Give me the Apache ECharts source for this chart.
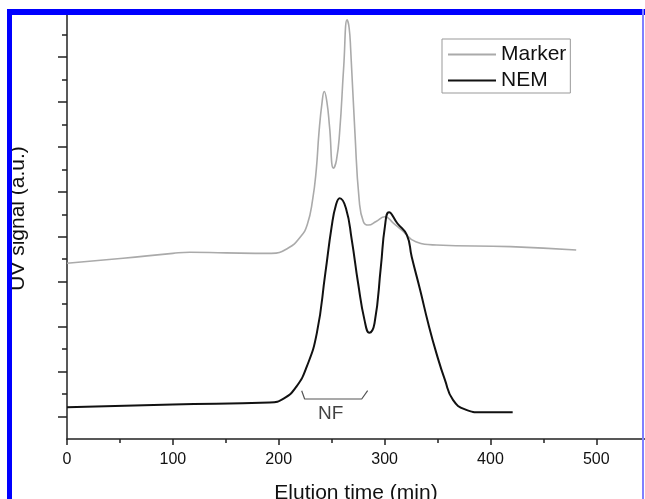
<!DOCTYPE html>
<html>
<head>
<meta charset="utf-8">
<script src="https://cdn.jsdelivr.net/npm/echarts@6/dist/echarts.min.js"></script>
<style>
  html, body { margin: 0; padding: 0; background: #fff; }
  #main { width: 645px; height: 499px; }
</style>
</head>
<body>
<div id="main"></div>
<script>
  // elution time (min), UV signal (a.u.)
  var markerData = [
    [0, 7.82], [53, 8.04], [100, 8.26], [116, 8.31], [150, 8.28], [193, 8.26],
    [209, 8.50], [220.6, 9.00], [227, 9.55], [232, 10.64], [235.5, 12.0], [238, 13.62],
    [241, 15.0], [243, 15.46], [245.5, 15.0], [248, 13.90], [251.7, 12.05],
    [254.5, 12.4], [257.5, 13.62], [261.4, 16.57], [264.6, 18.65], [266.5, 18.3],
    [268, 17.31], [272, 13.62], [276, 10.64], [280, 9.67], [284.8, 9.52],
    [292, 9.68], [300.3, 9.89], [308, 9.62], [316, 9.30], [329.5, 8.78],
    [349, 8.63], [419, 8.56], [481, 8.41]
  ];
  var nemData = [
    [0, 1.41], [100, 1.54], [191.5, 1.62], [205, 1.81], [216.7, 2.33], [226.5, 3.22],
    [236, 4.71], [244, 7.37], [250, 9.45], [254, 10.4], [257.6, 10.71], [263.5, 10.27],
    [269, 8.86], [275, 6.93], [281, 5.30], [285.6, 4.73], [290.5, 5.15], [296.5, 7.67],
    [300.3, 9.45], [304.2, 10.09], [312, 9.60], [321, 9.08], [325.6, 8.11],
    [333.6, 6.63], [341.2, 5.15], [349, 3.81], [357, 2.63], [364.6, 1.74],
    [376, 1.32], [391.8, 1.19], [421, 1.19]
  ];
  var bracketData = [[221.7, 2.15], [224.5, 1.78], [278.4, 1.78], [284, 2.15]];
  var nfLabel = [[249, 1.11]];
  var xMajor = [0, 100, 200, 300, 400, 500];
  var xMinor = [50, 150, 250, 350, 450];
  var yMajor = [1, 3, 5, 7, 9, 11, 13, 15, 17];
  var yMinor = [2, 4, 6, 8, 10, 12, 14, 16, 18];

  var font = 'Liberation Sans, Arial, sans-serif';
  var axisColor = '#222';
  var chart = echarts.init(document.getElementById('main'));

  chart.setOption({
    backgroundColor: '#fff',
    animation: false,
    textStyle: { fontFamily: font },
    grid: { left: 67, right: 0, top: 12, bottom: 60, containLabel: false, outerBoundsMode: 'none' },
    legend: {
      data: [{ name: 'Marker', icon: 'rect' }, { name: 'NEM', icon: 'rect' }],
      orient: 'vertical',
      left: 442,
      top: 39,
      itemWidth: 48,
      itemHeight: 2,
      itemGap: 5,
      padding: [5, 4, 2, 6],
      borderColor: '#999',
      borderWidth: 1,
      textStyle: { fontSize: 21, color: '#111', fontFamily: font, lineHeight: 21 }
    },
    xAxis: [{
      type: 'value',
      min: 0,
      max: 546,
      interval: 100,
      name: 'Elution time (min)',
      nameLocation: 'middle',
      nameGap: 44,
      nameTextStyle: { fontSize: 21, color: '#111', fontFamily: font },
      axisLine: { lineStyle: { color: axisColor, width: 1.5 } },
      axisTick: { customValues: xMajor, length: 6, lineStyle: { color: axisColor, width: 1.5 } },
      axisLabel: { customValues: xMajor, fontSize: 16, color: '#111', margin: 13, fontFamily: font },
      splitLine: { show: false }
    }, {
      type: 'value',
      min: 0,
      max: 546,
      position: 'bottom',
      axisLine: { show: false },
      axisTick: { customValues: xMinor, length: 4, lineStyle: { color: axisColor, width: 1.5 } },
      axisLabel: { show: false },
      splitLine: { show: false }
    }],
    yAxis: [{
      type: 'value',
      min: 0,
      max: 19,
      name: 'UV signal (a.u.)',
      nameLocation: 'middle',
      nameGap: 38,
      nameTextStyle: { fontSize: 21, color: '#111', fontFamily: font, padding: [0, 0, 0, 14] },
      axisLine: { lineStyle: { color: axisColor, width: 1.5 } },
      axisTick: { customValues: yMajor, length: 9, lineStyle: { color: axisColor, width: 1.5 } },
      axisLabel: { show: false },
      splitLine: { show: false }
    }, {
      type: 'value',
      min: 0,
      max: 19,
      position: 'left',
      axisLine: { show: false },
      axisTick: { customValues: yMinor, length: 5, lineStyle: { color: axisColor, width: 1.5 } },
      axisLabel: { show: false },
      splitLine: { show: false }
    }],
    series: [{
      name: 'Marker',
      type: 'line',
      data: markerData,
      symbol: 'none',
      smooth: 0.5,
      lineStyle: { color: '#aaa', width: 1.6 },
      itemStyle: { color: '#aaa' }
    }, {
      name: 'NEM',
      type: 'line',
      data: nemData,
      symbol: 'none',
      smooth: 0.5,
      lineStyle: { color: '#111', width: 2 },
      itemStyle: { color: '#111' }
    }, {
      name: 'NF bracket',
      type: 'line',
      data: bracketData,
      symbol: 'none',
      lineStyle: { color: '#555', width: 1.2 }
    }, {
      name: 'NF',
      type: 'scatter',
      data: nfLabel,
      symbolSize: 0,
      label: {
        show: true,
        position: 'inside',
        formatter: 'NF',
        fontSize: 19,
        color: '#111',
        fontFamily: font
      }
    }],
    graphic: [
      { type: 'rect', z: 100, shape: { x: 7, y: 9, width: 638, height: 6 }, style: { fill: '#0000ff' } },
      { type: 'rect', z: 100, shape: { x: 7, y: 9, width: 5, height: 490 }, style: { fill: '#0000ff' } },
      { type: 'rect', z: 100, shape: { x: 642, y: 9, width: 2, height: 490 }, style: { fill: '#8080ff' } }
    ]
  });
</script>
</body>
</html>
